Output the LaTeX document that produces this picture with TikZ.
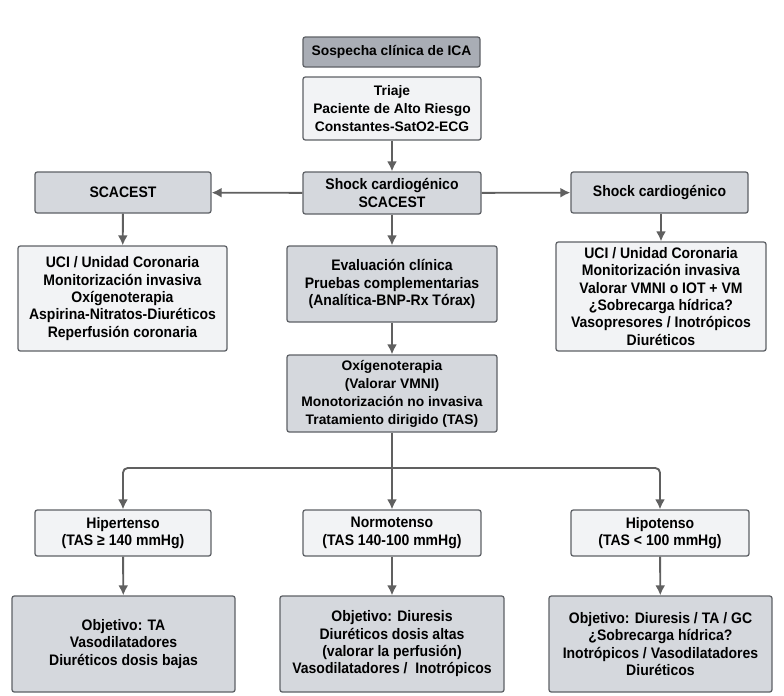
\documentclass[tikz,border=0pt]{standalone}
\usepackage{fontspec}
\setmainfont{Liberation Sans}
\newfontfamily\narrowfont[FakeStretch=0.92]{Liberation Sans}
\usetikzlibrary{arrows.meta}

\definecolor{boxdark}{HTML}{A9ADB5}
\definecolor{boxmid}{HTML}{D5D8DD}
\definecolor{boxlight}{HTML}{F2F3F5}
\definecolor{edgegray}{HTML}{5E6166}
\definecolor{linegray}{HTML}{606060}

\newdimen\pxu
\pxu=0.03cm

\begin{document}
\begin{tikzpicture}[
        x=0.03cm, y=-0.03cm,
        >={Latex[length=3mm,width=3mm]},
        box/.style={draw=edgegray, line width=1.1pt, rounded corners=2pt,
            align=center, inner sep=0pt, font=\bfseries\fontsize{11.8}{15.4}\selectfont},
        nbox/.style={box, font=\narrowfont\bfseries\fontsize{13}{14.8}\selectfont},
        dark/.style={fill=boxdark},
        mid/.style={fill=boxmid},
        light/.style={fill=boxlight},
        link/.style={->, draw=linegray, line width=1.6pt},
        ]
        \useasboundingbox (0,0) rectangle (784,695);

        % Top
        \node[box, dark, minimum width=177\pxu, minimum height=30\pxu] (sospecha) at (391.5,52) {Sospecha clínica de ICA};
        \node[box, light, minimum width=178\pxu, minimum height=63\pxu] (triaje) at (392,108.5) {Triaje\\Paciente de Alto Riesgo\\Constantes-SatO2-ECG};

        % Second row
        \node[nbox, mid, minimum width=178\pxu, minimum height=42\pxu] (shockscacest) at (392,193) {Shock cardiogénico\\SCACEST};
        \node[nbox, mid, minimum width=176\pxu, minimum height=41\pxu] (scacest) at (123,192.5) {SCACEST};
        \node[nbox, mid, minimum width=177\pxu, minimum height=41\pxu] (shock) at (659.5,192.5) {Shock cardiogénico};

        % Third row
        \node[nbox, light, minimum width=209\pxu, minimum height=105\pxu] (uci) at (122.5,298.5) {UCI / Unidad Coronaria\\Monitorización invasiva\\Oxígenoterapia\\Aspirina-Nitratos-Diuréticos\\Reperfusión coronaria};
        \node[nbox, mid, minimum width=210\pxu, minimum height=76\pxu] (evaluacion) at (392,284) {Evaluación clínica\\Pruebas complementarias\\(Analítica-BNP-Rx Tórax)};
        \node[nbox, light, minimum width=210\pxu, minimum height=109\pxu] (ucishock) at (661,296.5) {UCI / Unidad Coronaria\\Monitorización invasiva\\Valorar VMNI o IOT + VM\\¿Sobrecarga hídrica?\\Vasopresores / Inotrópicos\\Diuréticos};

        \node[box, mid, minimum width=210\pxu, minimum height=77\pxu] (oxigeno) at (392,393.5) {Oxígenoterapia\\(Valorar VMNI)\\Monotorización no invasiva\\Tratamiento dirigido (TAS)};

        % TAS groups
        \node[nbox, light, minimum width=176\pxu, minimum height=46\pxu] (hiper) at (123,533) {Hipertenso\\(TAS ≥ 140 mmHg)};
        \node[nbox, light, minimum width=178\pxu, minimum height=46\pxu] (normo) at (392,533) {Normotenso\\(TAS 140-100 mmHg)};
        \node[nbox, light, minimum width=178\pxu, minimum height=46\pxu] (hipo) at (660,533) {Hipotenso\\(TAS < 100 mmHg)};

        \node[nbox, mid, minimum width=223\pxu, minimum height=96\pxu] (objhiper) at (123.5,644) {Objetivo: TA\\Vasodilatadores\\Diuréticos dosis bajas};
        \node[nbox, mid, minimum width=224\pxu, minimum height=96\pxu] (objnormo) at (392,644) {Objetivo: Diuresis\\Diuréticos dosis altas\\(valorar la perfusión)\\Vasodilatadores /\ \ Inotrópicos};
        \node[nbox, mid, minimum width=223\pxu, minimum height=96\pxu] (objhipo) at (660.5,644) {Objetivo: Diuresis / TA / GC\\¿Sobrecarga hídrica?\\Inotrópicos / Vasodilatadores\\Diuréticos};

        % Connectors
        \draw[link] (triaje) -- (shockscacest);
        \draw[link] (shockscacest) -- (scacest);
        \draw[link] (shockscacest) -- (shock);
        \draw[link] (scacest) -- (uci);
        \draw[link] (shockscacest) -- (evaluacion);
        \draw[link] (shock.south -| ucishock.north) -- (ucishock);
        \draw[link] (evaluacion) -- (oxigeno);

        \coordinate (split) at (392,468);
        \draw[draw=linegray, line width=1.6pt] (oxigeno) -- (split);
        \draw[link, rounded corners=4pt] (split) -| (hiper);
        \draw[link] (split) -- (normo);
        \draw[link, rounded corners=4pt] (split) -| (hipo);
        \draw[link] (hiper) -- (objhiper);
        \draw[link] (normo) -- (objnormo);
        \draw[link] (hipo) -- (objhipo);

    \end{tikzpicture}
\end{document}
